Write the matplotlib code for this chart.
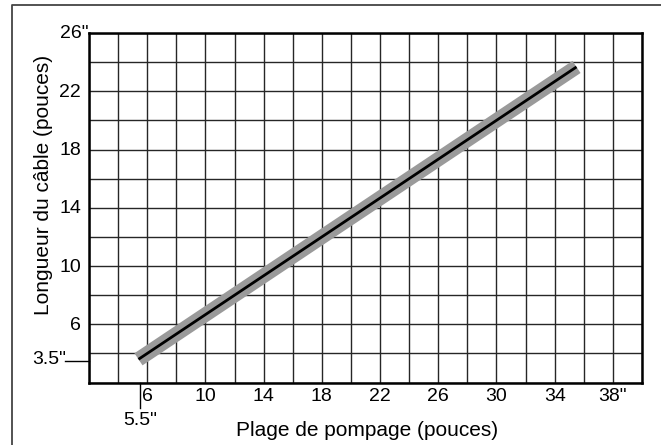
import matplotlib
matplotlib.use("Agg")
import matplotlib.pyplot as plt
import matplotlib.transforms as mtransforms
from matplotlib.lines import Line2D
from matplotlib.ticker import MultipleLocator

plt.rcParams['font.family'] = ['Liberation Sans', 'DejaVu Sans']

# chart data
x_ticks = [6, 10, 14, 18, 22, 26, 30, 34, 38]
x_labels = ['6', '10', '14', '18', '22', '26', '30', '34', '38"']
y_ticks = [6, 10, 14, 18, 22, 26]
y_labels = ['6', '10', '14', '18', '22', '26"']
line_x = [5.4, 35.5]
line_y = [3.6, 23.67]
start_x, start_x_label = 5.5, '5.5"'
start_y, start_y_label = 3.5, '3.5"'

FS = 15
TFS = 14

fig = plt.figure(figsize=(6.61, 4.45), dpi=100)
ax = fig.add_axes([89 / 661, 1 - 382.6 / 445, (642 - 89) / 661, (382.6 - 33) / 445])

ax.set_xlim(2, 40)
ax.set_ylim(2, 26)
ax.xaxis.set_major_locator(MultipleLocator(2))
ax.yaxis.set_major_locator(MultipleLocator(2))
ax.set_xticklabels([])
ax.set_yticklabels([])
ax.tick_params(length=0)
ax.grid(True, color='#262626', linewidth=1.0)
ax.set_axisbelow(True)
for s in ax.spines.values():
    s.set_linewidth(1.8)
    s.set_color('black')

# gray band + black line
ax.plot(line_x, line_y, color='#9a9a9a', linewidth=10.5, solid_capstyle='butt', zorder=3)
ax.plot(line_x, line_y, color='black', linewidth=2.0, solid_capstyle='butt', zorder=4)

# tick labels
xt = mtransforms.blended_transform_factory(ax.transData, ax.transAxes)
yt = mtransforms.blended_transform_factory(ax.transAxes, ax.transData)
for v, lab in zip(x_ticks, x_labels):
    tr = mtransforms.offset_copy(xt, fig=fig, x=0, y=-5, units='dots')
    ax.text(v, 0, lab, transform=tr, ha='center', va='top', fontsize=TFS)
for v, lab in zip(y_ticks, y_labels):
    dx = -1 if lab.endswith('"') else -8
    tr = mtransforms.offset_copy(yt, fig=fig, x=dx, y=-1, units='dots')
    ax.text(0, v, lab, transform=tr, ha='right', va='center', fontsize=TFS)

# start markers
px = 1 / (382.6 - 33)
ax.plot([start_x, start_x], [0, -25 * px], transform=xt, color='black',
        linewidth=1.0, clip_on=False)
tr = mtransforms.offset_copy(xt, fig=fig, x=0, y=-29, units='dots')
ax.text(start_x, 0, start_x_label, transform=tr, ha='center', va='top', fontsize=TFS)

pxx = 1 / (642 - 89)
ax.plot([0, -24 * pxx], [start_y, start_y], transform=yt, color='black',
        linewidth=1.0, clip_on=False)
tr = mtransforms.offset_copy(yt, fig=fig, x=-23, y=1, units='dots')
ax.text(0, start_y, start_y_label, transform=tr, ha='right', va='center', fontsize=TFS)

# axis titles
fig.text(367 / 661, 1 - 431 / 445, 'Plage de pompage (pouces)', ha='center',
         va='center', fontsize=FS)
fig.text(44 / 661, 1 - 185 / 445, 'Longueur du câble (pouces)', ha='center',
         va='center', rotation=90, fontsize=FS)

# outer frame (left and top edges)
fig.add_artist(Line2D([11.5 / 661, 11.5 / 661, 1.0], [0.0, 1 - 5 / 445, 1 - 5 / 445],
                      transform=fig.transFigure, color='#444444', linewidth=1.3))

fig.savefig('out.png', dpi=100)
